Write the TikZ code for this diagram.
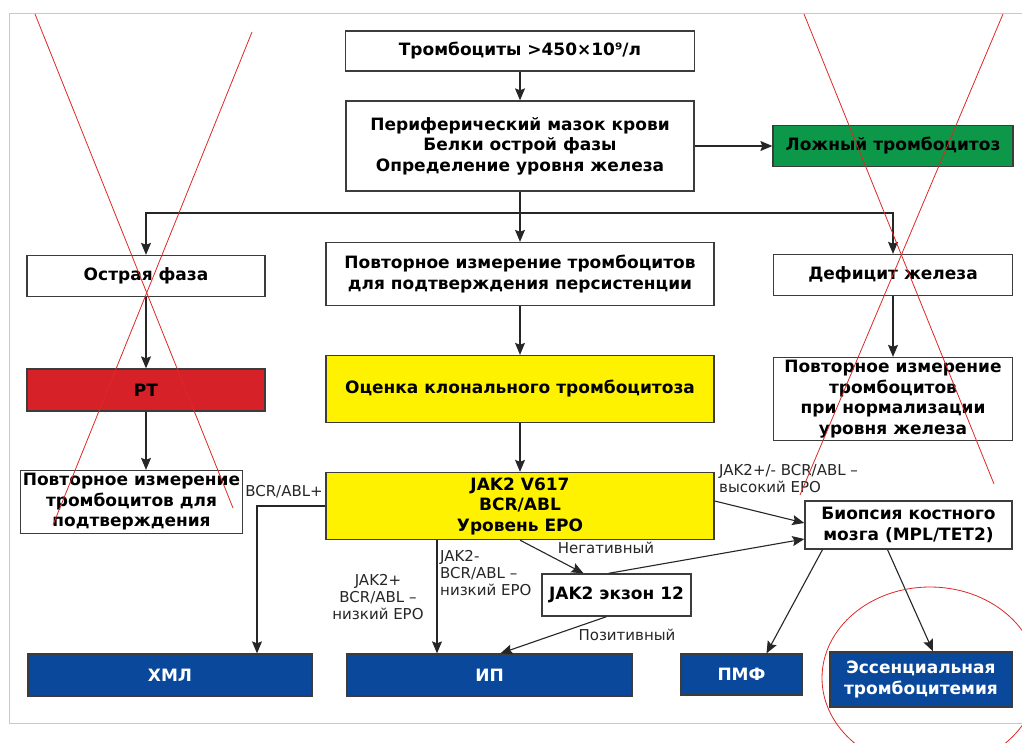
\documentclass[tikz,border=0pt]{standalone}
\usepackage{fontspec}
\setmainfont{DejaVu Sans}
\usetikzlibrary{arrows.meta,calc}
\definecolor{yel}{RGB}{255,242,0}
\definecolor{redbox}{RGB}{214,33,41}
\definecolor{greenbox}{RGB}{12,152,72}
\definecolor{bluebox}{RGB}{10,72,156}
\definecolor{boxline}{RGB}{60,60,60}
\definecolor{frame}{RGB}{200,200,200}
\definecolor{mark}{RGB}{222,40,40}
\begin{document}
\begin{tikzpicture}[x=1pt,y=-1pt,
  box/.style={draw=boxline, line width=1.3pt, fill=white, inner sep=2pt, align=center,
    font=\fontsize{17}{20.5}\selectfont\bfseries, text=black},
  bluebx/.style={box, fill=bluebox, text=white},
  arr/.style={draw=black!85, line width=1.1pt, -{Stealth[length=12pt,width=10pt,inset=2pt]}},
  lbl/.style={font=\fontsize{15}{17}\selectfont, text=black!85, inner sep=0pt},
  cross/.style={draw=mark, line width=0.8pt}]
\useasboundingbox (0,0) rectangle (1022,743);
\begin{scope}
\clip (0,0) rectangle (1022,743);
\fill[white] (0,0) rectangle (1022,743);
\draw[frame, line width=1pt] (9,14) rectangle (1040,723);

% nodes
\node[box, minimum width=349, minimum height=40] (b1) at (520,51) {Тромбоциты >450×10⁹/л};
\node[box, minimum width=348, minimum height=90] (b2) at (520,146) {Периферический мазок крови\\Белки острой фазы\\Определение уровня железа};
\node[box, fill=greenbox, minimum width=240, minimum height=41] (fals) at (893,146) {Ложный тромбоцитоз};
\node[box, minimum width=238, minimum height=41] (acute) at (146,276) {Острая фаза};
\node[box, minimum width=388, minimum height=63] (rep) at (520,274) {Повторное измерение тромбоцитов\\для подтверждения персистенции};
\node[box, minimum width=239, minimum height=41] (iron) at (893,275) {Дефицит железа};
\node[box, fill=redbox, minimum width=238, minimum height=42] (rt) at (146,390) {РТ};
\node[box, fill=yel, minimum width=388, minimum height=67] (clon) at (520,389) {Оценка клонального тромбоцитоза};
\node[box, minimum width=239, minimum height=83] (ironrep) at (893,399) {Повторное измерение\\тромбоцитов\\при нормализации\\уровня железа};
\node[box, minimum width=217, minimum height=63] (leftrep) at (131.5,502) {Повторное измерение\\тромбоцитов для\\подтверждения};
\node[box, fill=yel, minimum width=388, minimum height=67] (jak) at (520,506) {JAK2 V617\\BCR/ABL\\Уровень EPO};
\node[box, minimum width=207, minimum height=48] (bio) at (908.5,525) {Биопсия костного\\мозга (MPL/TET2)};
\node[box, minimum width=149, minimum height=42] (exon) at (616.5,595) {JAK2 экзон 12};
\node[bluebx, minimum width=284, minimum height=42] (cml) at (170,675) {ХМЛ};
\node[bluebx, minimum width=285, minimum height=42] (pv) at (489.5,675) {ИП};
\node[bluebx, minimum width=121, minimum height=41] (pmf) at (741.5,674.5) {ПМФ};
\node[bluebx, minimum width=182, minimum height=55] (et) at (921,679.5) {Эссенциальная\\тромбоцитемия};

% connectors
\coordinate (split) at (520,213);
\coordinate (cmlx) at (257,0);
\coordinate (pvx) at (437,0);
\draw[arr] (b1) -- (b2);
\draw[arr] (b2) -- (fals);
\draw[arr] (b2) -- (rep);
\draw[arr] (split) -| (acute.north);
\draw[arr] (split) -| (iron.north);
\draw[arr] (acute) -- (rt);
\draw[arr] (rt.south) -- (rt.south |- leftrep.north);
\draw[arr] (rep) -- (clon);
\draw[arr] (clon) -- (jak);
\draw[arr] (iron) -- (ironrep);
\draw[arr] (jak.west) -| (cml.north -| cmlx);
\draw[arr] (jak.south -| pvx) -- (pv.north -| pvx);
\draw[arr] (jak.south) -- ($(exon.north)+(-33,0)$);
\draw[arr] ($(exon.south)+(-10,0)$) -- ($(pv.north)+(11,0)$);
\draw[arr] ($(jak.east)+(0,-5)$) -- ($(bio.west)+(0,-2)$);
\draw[arr] ($(exon.north)+(-8,0)$) -- ($(bio.west)+(0,14)$);
\draw[arr] ($(bio.south)+(-86,0)$) -- ($(pmf.north)+(25,0)$);
\draw[arr] ($(bio.south)+(-21,0)$) -- ($(et.north)+(12,0)$);

% labels
\node[lbl] (l1) at (284,492) {BCR/ABL+};
\node[lbl, align=center] (l2) at (378,597) {JAK2+\\BCR/ABL –\\низкий EPO};
\node[lbl, align=left, anchor=west] (l3) at (440,573) {JAK2-\\BCR/ABL –\\низкий EPO};
\node[lbl] (l4) at (606,548) {Негативный};
\node[lbl] (l5) at (627,635) {Позитивный};
\node[lbl, align=left, anchor=west] (l6) at (719,479) {JAK2+/- BCR/ABL –\\высокий EPO};

% red marks
\draw[cross] (35,14) -- (233,508);
\draw[cross] (252,32) -- (53,525);
\draw[cross] (804,14) -- (994,484);
\draw[cross] (1003,14) -- (800,495);
\draw[cross] (930,678) ellipse [x radius=108, y radius=91];
\end{scope}
\end{tikzpicture}
\end{document}
